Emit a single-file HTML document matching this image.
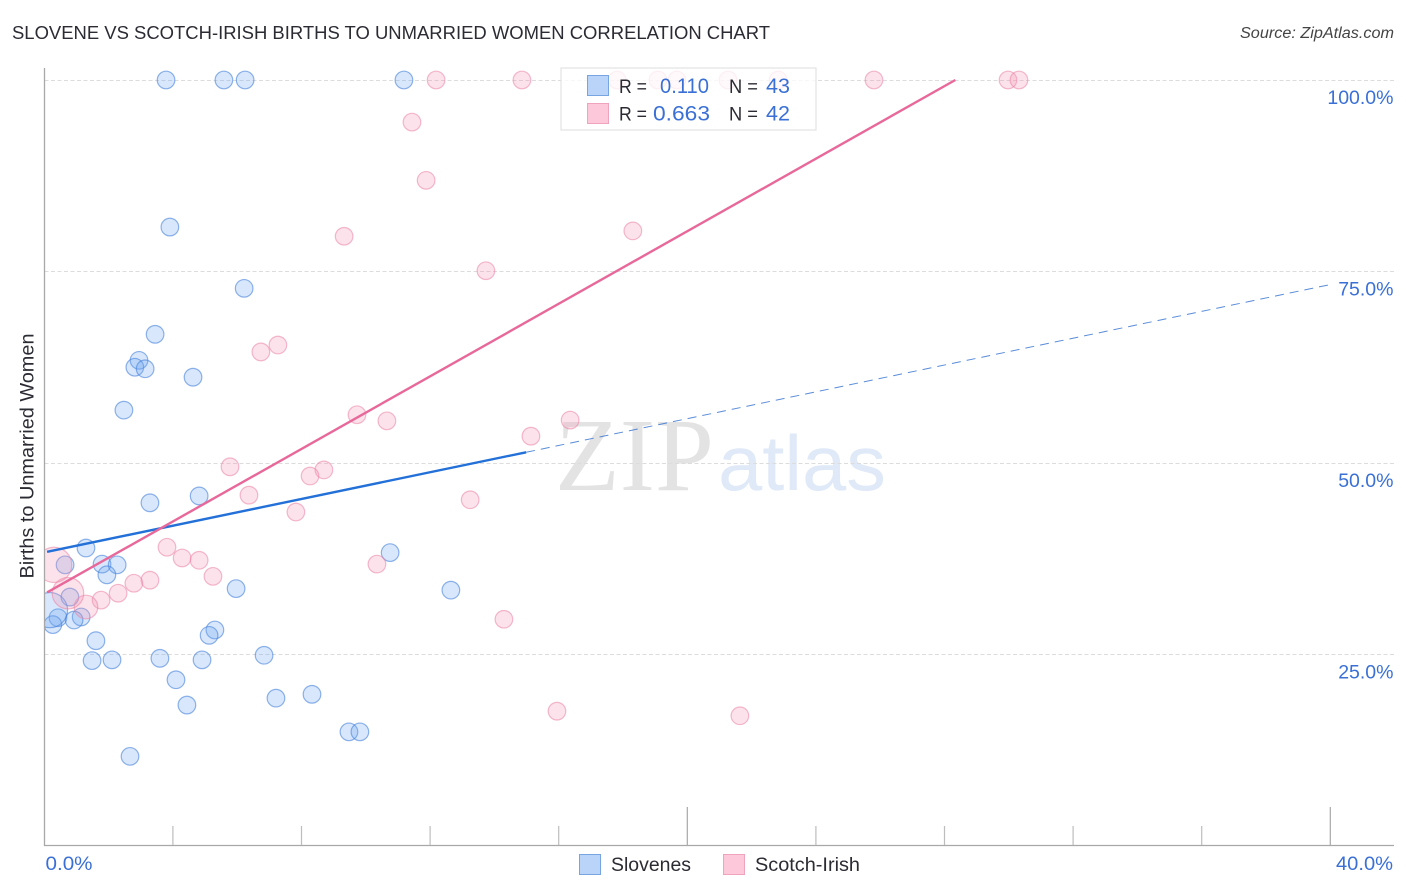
<!DOCTYPE html>
<html lang="en">
<head>
<meta charset="utf-8">
<title>Slovene vs Scotch-Irish Births to Unmarried Women Correlation Chart</title>
<style>
html,body{margin:0;padding:0;background:#fff;width:1406px;height:892px;overflow:hidden}
svg{display:block;font-family:"Liberation Sans",sans-serif}
</style>
</head>
<body>
<svg id="chart" xmlns="http://www.w3.org/2000/svg" width="1406" height="892" viewBox="0 0 1406 892">
  <defs>
    <clipPath id="plot-clip"><rect x="45" y="60" width="1349" height="786"/></clipPath>
  </defs>
  <rect x="0" y="0" width="1406" height="892" fill="#ffffff"/>
  <text x="12" y="39" font-size="18.5" fill="#2b2b33" textLength="758" lengthAdjust="spacingAndGlyphs">SLOVENE VS SCOTCH-IRISH BIRTHS TO UNMARRIED WOMEN CORRELATION CHART</text>
  <text x="1240" y="38" font-size="15.5" font-style="italic" fill="#444" textLength="154" lengthAdjust="spacingAndGlyphs">Source: ZipAtlas.com</text>

  <g id="watermark">
    <text x="555" y="490" font-family="'Liberation Serif',serif" font-size="104" fill="#e3e3e3" textLength="159" lengthAdjust="spacingAndGlyphs">ZIP</text>
    <text x="718" y="490" font-size="78" fill="#dfe9f8" textLength="168" lengthAdjust="spacingAndGlyphs">atlas</text>
  </g>

  <g id="grid"></g>
  <g id="axes"></g>
  <g id="points" clip-path="url(#plot-clip)"></g>
  <g id="trends"></g>
  <g id="labels"></g>

  <text transform="translate(33.5,456) rotate(-90)" font-size="19.5" fill="#2b2b33" text-anchor="middle" textLength="245" lengthAdjust="spacingAndGlyphs">Births to Unmarried Women</text>

  <g>
    <rect x="561" y="68" width="255" height="62" fill="#ffffff" fill-opacity="0.78" stroke="#dddddd" stroke-width="1"/>
    <rect x="587.5" y="75.5" width="21" height="20" fill="#b9d4f8" stroke="#76a5e2"/>
    <rect x="587.5" y="103.5" width="21" height="20" fill="#fcc8da" stroke="#f0a3bd"/>
    <text x="619" y="93" font-size="19.5" fill="#2b2b33" textLength="28" lengthAdjust="spacingAndGlyphs">R =</text>
    <text x="660" y="93" font-size="21.5" fill="#3a70d6" textLength="49" lengthAdjust="spacingAndGlyphs">0.110</text>
    <text x="729" y="93" font-size="19.5" fill="#2b2b33" textLength="29" lengthAdjust="spacingAndGlyphs">N =</text>
    <text x="766" y="93" font-size="21.5" fill="#3a70d6" textLength="24" lengthAdjust="spacingAndGlyphs">43</text>
    <text x="619" y="120.5" font-size="19.5" fill="#2b2b33" textLength="28" lengthAdjust="spacingAndGlyphs">R =</text>
    <text x="653" y="120.5" font-size="21.5" fill="#3a70d6" textLength="57" lengthAdjust="spacingAndGlyphs">0.663</text>
    <text x="729" y="120.5" font-size="19.5" fill="#2b2b33" textLength="29" lengthAdjust="spacingAndGlyphs">N =</text>
    <text x="766" y="120.5" font-size="21.5" fill="#3a70d6" textLength="24" lengthAdjust="spacingAndGlyphs">42</text>
  </g>

  <g>
    <rect x="579.5" y="854.5" width="21" height="20" fill="#b9d4f8" stroke="#76a5e2"/>
    <text x="611" y="871" font-size="19.5" fill="#2b2b33" textLength="80" lengthAdjust="spacingAndGlyphs">Slovenes</text>
    <rect x="723.5" y="854.5" width="21" height="20" fill="#fcc8da" stroke="#f0a3bd"/>
    <text x="755" y="871" font-size="19.5" fill="#2b2b33" textLength="105" lengthAdjust="spacingAndGlyphs">Scotch-Irish</text>
  </g>
</svg>

<script>
var sloveneX = [3.78,5.58,6.24,11.18,3.90,6.21,3.44,2.94,2.81,3.13,4.62,2.47,3.28,4.81,1.29,1.79,0.64,2.26,1.94,5.96,12.64,10.75,0.79,1.14,0.42,0.92,0.26,5.30,5.12,1.60,1.48,2.10,3.59,4.90,6.83,4.09,4.43,7.20,8.32,9.47,9.81,2.66,0.17];
var sloveneY = [100,100,100,100,80.8,72.8,66.8,63.4,62.5,62.3,61.2,56.9,44.8,45.7,38.9,36.8,36.7,36.7,35.4,33.6,33.4,38.3,32.5,29.9,29.8,29.5,28.9,28.2,27.5,26.8,24.2,24.3,24.5,24.3,24.9,21.7,18.4,19.3,19.8,14.9,14.9,11.7,30.8];
var sloveneWeight = [1,1,1,1,1,1,1,1,1,1,1,1,1,1,1,1,1,1,1,1,1,1,1,1,1,1,1,1,1,1,1,1,1,1,1,1,1,1,1,1,1,1,4];

var scotchX = [12.18,14.85,17.81,19.08,19.67,21.26,22.82,25.80,29.97,30.31,11.43,11.87,18.30,9.32,13.73,7.26,6.73,9.72,10.65,16.35,15.13,5.77,8.69,8.26,6.36,13.24,7.82,3.81,4.28,4.81,5.24,3.28,2.78,2.29,1.76,1.29,14.29,15.94,21.63,10.34,0.73,0.30];
var scotchY = [100,100,100,100,100,100,100,100,100,100,94.5,86.9,80.3,79.6,75.1,65.4,64.5,56.3,55.5,55.6,53.5,49.5,49.1,48.3,45.8,45.2,43.6,39.0,37.6,37.3,35.2,34.7,34.3,33.0,32.1,31.2,29.6,17.6,17.0,36.8,33.0,36.7];
var scotchWeight = [1,1,1,1,1,1,1,1,1,1,1,1,1,1,1,1,1,1,1,1,1,1,1,1,1,1,1,1,1,1,1,1,1,1,1,1.8,1,1,1,1,3.2,4];

var sloveneTrendX = [0.08,14.98];
var sloveneTrendY = [38.4,51.4];
var sloveneForecastX = [14.98,40];
var sloveneForecastY = [51.4,73.3];
var scotchTrendX = [0.08,28.33];
var scotchTrendY = [33.1,100];

var yTicks = [25,50,75,100];
var yTickLabels = ["25.0%","50.0%","75.0%","100.0%"];
var xTicks = [4,8,12,16,20,24,28,32,36,40];
var xMajorTicks = [20,40];
var xEndTicks = [0,40];
var xEndLabels = ["0.0%","40.0%"];

var NS = 'http://www.w3.org/2000/svg';
function xScale(v){ return 44.5 + v * 32.15; }
function yScale(v){ return 846 - v * 7.66; }
function mk(tag, parent, attrs){
  var el = document.createElementNS(NS, tag);
  for (var k in attrs) el.setAttribute(k, attrs[k]);
  parent.appendChild(el);
  return el;
}

var grid = document.getElementById('grid');
var axes = document.getElementById('axes');
var points = document.getElementById('points');
var trends = document.getElementById('trends');
var labels = document.getElementById('labels');

yTicks.forEach(function(t, i){
  var py = Math.floor(yScale(t)) + 0.5;
  var line = mk('line', grid, {x1:44.5, x2:1394, y1:py, y2:py, stroke:'#dcdcdc', 'stroke-width':1, 'stroke-dasharray':'4 2.5'});
  
  
  var label = mk('text', labels, {x:1393.5, y:yScale(t) + 24, 'font-size':19.5, fill:'#3a70d6', 'text-anchor':'end'});
  label.textContent = yTickLabels[i];
  
  
});

var yAxis = mk('line', axes, {x1:44.5, x2:44.5, y1:68, y2:846, stroke:'#a8a8a8', 'stroke-width':1.3});


var xAxis = mk('line', axes, {x1:44, x2:1394, y1:845.5, y2:845.5, stroke:'#a8a8a8', 'stroke-width':1.3});



xTicks.forEach(function(t){
  var px = xScale(t) - 0.2;
  var major = xMajorTicks.indexOf(t) >= 0;
  var tick = mk('line', axes, {x1:px, x2:px, y1:major ? 807 : 826, y2:845, stroke:major ? '#a8a8a8' : '#bdbdbd', 'stroke-width':1.2});
  
  
});

xEndTicks.forEach(function(t, i){
  var label = mk('text', labels, {x:i === 0 ? xScale(t) + 1 : 1336, y:870, 'font-size':19.5, fill:'#3a70d6', textLength:i === 0 ? 47 : 57, lengthAdjust:'spacingAndGlyphs'});
  label.textContent = xEndLabels[i];
  
  
});

function radius(w){ return 8.8 * Math.sqrt(w); }

sloveneX.forEach(function(v, i){
  var c = mk('circle', points, {cx:xScale(v), cy:yScale(sloveneY[i]), r:radius(sloveneWeight[i]), fill:'rgba(110,165,240,0.27)', stroke:'rgba(70,130,220,0.6)', 'stroke-width':1.2});
  
  
});

scotchX.forEach(function(v, i){
  var c = mk('circle', points, {cx:xScale(v), cy:yScale(scotchY[i]), r:radius(scotchWeight[i]), fill:'rgba(245,150,180,0.28)', stroke:'rgba(235,130,165,0.55)', 'stroke-width':1.2});
  
  
});

var forecast = mk('line', trends, {x1:xScale(sloveneForecastX[0]), y1:yScale(sloveneForecastY[0]), x2:xScale(sloveneForecastX[1]), y2:yScale(sloveneForecastY[1]), stroke:'#2f6fd0', 'stroke-width':1, 'stroke-dasharray':'9 6', 'stroke-opacity':0.8});



var sloveneTrend = mk('line', trends, {x1:xScale(sloveneTrendX[0]), y1:yScale(sloveneTrendY[0]), x2:xScale(sloveneTrendX[1]), y2:yScale(sloveneTrendY[1]), stroke:'#2270d8', 'stroke-width':2.4});



var scotchTrend = mk('line', trends, {x1:xScale(scotchTrendX[0]), y1:yScale(scotchTrendY[0]), x2:xScale(scotchTrendX[1]), y2:yScale(scotchTrendY[1]), stroke:'#e8689a', 'stroke-width':2.4});


</script>
</body>
</html>
